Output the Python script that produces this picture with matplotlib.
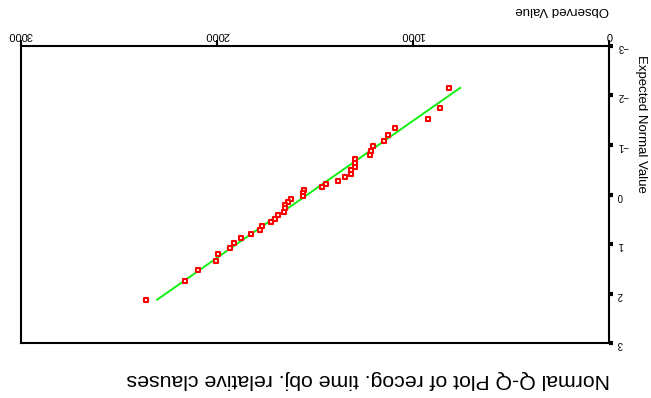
import numpy as np
import matplotlib
matplotlib.use("Agg")
import matplotlib.pyplot as plt

observado = [815, 862, 925, 1092, 1129, 1148, 1206, 1213, 1221, 1297,
             1297, 1297, 1318, 1318, 1345, 1381, 1444, 1464, 1556, 1560,
             1563, 1624, 1639, 1653, 1653, 1660, 1687, 1703, 1723, 1770,
             1779, 1828, 1878, 1912, 1934, 1996, 2004, 2095, 2165, 2362]
esperado = [-2.15, -1.74, -1.52, -1.34, -1.20, -1.08, -0.98, -0.88, -0.79, -0.71,
            -0.63, -0.56, -0.49, -0.42, -0.35, -0.28, -0.22, -0.16, -0.09, -0.03,
            0.03, 0.09, 0.16, 0.22, 0.28, 0.35, 0.42, 0.49, 0.56, 0.63,
            0.71, 0.79, 0.88, 0.98, 1.08, 1.20, 1.34, 1.52, 1.74, 2.12]
x_ticks = [0, 1000, 2000, 3000]
y_ticks = [-3, -2, -1, 0, 1, 2, 3]
titulo = "Normal Q-Q Plot of recog. time obj. relative clauses"

plt.rcParams['font.family'] = ['Liberation Sans', 'DejaVu Sans']

fig = plt.figure(figsize=(6.51, 3.98), dpi=100)
ax = fig.add_axes([0.0318, 0.1374, 0.9042, 0.7478])

# linha teórica normal
media = np.mean(observado)
dp = np.std(observado, ddof=1)
z = np.array([min(esperado), max(esperado)])
ax.plot(media + dp * z, z, color='#11f011', linewidth=1.4, zorder=2)

ax.scatter(observado, esperado, marker='s', s=11, facecolor='white',
           edgecolor='#ff0000', linewidth=1.5, zorder=3)

# o gráfico original está girado 180 graus
ax.set_xlim(3000, 0)
ax.set_ylim(3, -3)
ax.xaxis.tick_top()
ax.yaxis.tick_right()
ax.set_xticks(x_ticks)
ax.set_yticks(y_ticks)
ax.tick_params(axis='x', direction='out', length=4, width=1.5, labelsize=8,
               labelrotation=180, pad=0)
ax.tick_params(axis='y', direction='out', length=3, width=3, labelsize=7,
               labelrotation=180, pad=3)
for s in ax.spines.values():
    s.set_linewidth(1.5)

fig.text(610 / 651, 1 - 379 / 398, titulo, rotation=180, ha='right',
         va='center', fontsize=15.3)
fig.text(609 / 651, 1 - 10 / 398, "Observed Value", rotation=180, ha='right',
         va='center', fontsize=9.5)
fig.text(641 / 651, 1 - 55 / 398, "Expected Normal Value", rotation=270,
         ha='center', va='top', fontsize=9.5)

fig.savefig("out.png", dpi=100)
